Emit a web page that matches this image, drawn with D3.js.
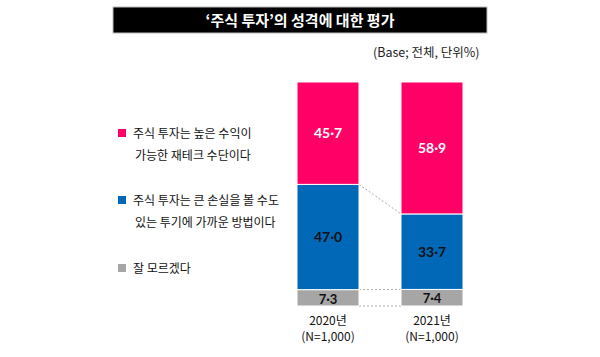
<!DOCTYPE html>
<html><head><meta charset="utf-8">
<script src="https://cdn.jsdelivr.net/npm/d3@7"></script>
<style>body{margin:0;background:#fff;}svg{display:block;font-family:"Noto Sans CJK KR","Noto Sans",sans-serif;}</style>
</head><body>
<svg id="c" width="600" height="357"></svg>
<script>
const years = ["2020년", "2021년"];
const sampleLabels = ["(N=1,000)", "(N=1,000)"];
const seriesNames = ["주식 투자는 높은 수익이|가능한 재테크 수단이다", "주식 투자는 큰 손실을 볼 수도|있는 투기에 가까운 방법이다", "잘 모르겠다"];
const seriesColors = ["#ff0066", "#0068b7", "#a6a6a6"];
const valuesHigh = [45.7, 58.9];
const valuesLoss = [47.0, 33.7];
const valuesDK = [7.3, 7.4];
const titleText = "‘주식 투자’의 성격에 대한 평가";
const baseText = "(Base; 전체, 단위%)";

const svg = d3.select("#c");
// Title bar
svg.append("rect").attr("x",113).attr("y",7).attr("width",374).attr("height",26).attr("fill","#000").attr("stroke","#bbb").attr("stroke-width",1);
svg.append("text").attr("x",300).attr("y",26).attr("text-anchor","middle").attr("fill","#fff")
  .attr("font-size",15).attr("font-weight","bold").text(titleText);
svg.append("text").attr("x",373).attr("y",57).attr("fill","#222").attr("font-size",12.5).text(baseText);

const x = d3.scaleBand().domain(years).range([297,463]).paddingInner(0.404).paddingOuter(0);
const y = d3.scaleLinear().domain([0,100]).range([306,82]);

const rows = years.map((yr,i)=>({year:yr, high:valuesHigh[i], loss:valuesLoss[i], dk:valuesDK[i]}));
const stack = d3.stack().keys(["dk","loss","high"])(rows);
const keyIdx = {high:0, loss:1, dk:2};

// connectors
const bw = x.bandwidth();
const conn = svg.append("g").attr("stroke","#aaa").attr("stroke-width",1).attr("stroke-dasharray","2,2").attr("fill","none");
stack.forEach(layer=>{
  if(layer.key==="high") return;
  const a = layer[0], b = layer[1];
  conn.append("line").attr("x1",x(years[0])+bw).attr("x2",x(years[1]))
    .attr("y1",y(a[1])).attr("y2",y(b[1]));
  if(layer.key==="dk"){
    conn.append("line").attr("x1",x(years[0])+bw).attr("x2",x(years[1]))
      .attr("y1",y(a[0])).attr("y2",y(b[0]));
  }
});

stack.forEach(layer=>{
  const k = keyIdx[layer.key];
  const g = svg.append("g");
  g.selectAll("rect").data(layer).join("rect")
    .attr("x",d=>x(d.data.year)).attr("width",bw)
    .attr("y",d=>y(d[1])).attr("height",d=>y(d[0])-y(d[1]))
    .attr("fill",seriesColors[k]).attr("stroke","#fff").attr("stroke-width",1);
  g.selectAll("text").data(layer).join("text")
    .attr("x",d=>x(d.data.year)+bw/2)
    .attr("y",d=> layer.key==="dk" ? y(d[1])+14 : (y(d[0])+y(d[1]))/2+5)
    .attr("text-anchor","middle")
    .attr("font-size",layer.key==="dk"?13:14).attr("font-weight","bold")
    .attr("font-family","Lato, 'Noto Sans', sans-serif")
    .attr("fill",layer.key==="high"?"#fff":"#111")
    .text(d=>(d[1]-d[0]).toFixed(1).replace(".", "·"));
});

// year labels
years.forEach((yr,i)=>{
  svg.append("text").attr("x",x(yr)+bw/2).attr("y",325).attr("text-anchor","middle").attr("font-size",12).attr("fill","#111").text(yr);
  svg.append("text").attr("x",x(yr)+bw/2).attr("y",341).attr("text-anchor","middle").attr("font-size",12).attr("fill","#111").text(sampleLabels[i]);
});

// legend
const legY = [133, 200, 268];
seriesNames.forEach((n,i)=>{
  svg.append("rect").attr("x",118).attr("y",legY[i]-4).attr("width",8).attr("height",8).attr("fill",seriesColors[i]);
  n.split("|").forEach((line,j)=>{
    svg.append("text").attr("x",j===0?133:135).attr("y",legY[i]+5+j*22).attr("font-size",12).attr("fill","#111").text(line);
  });
});
</script>
</body></html>
